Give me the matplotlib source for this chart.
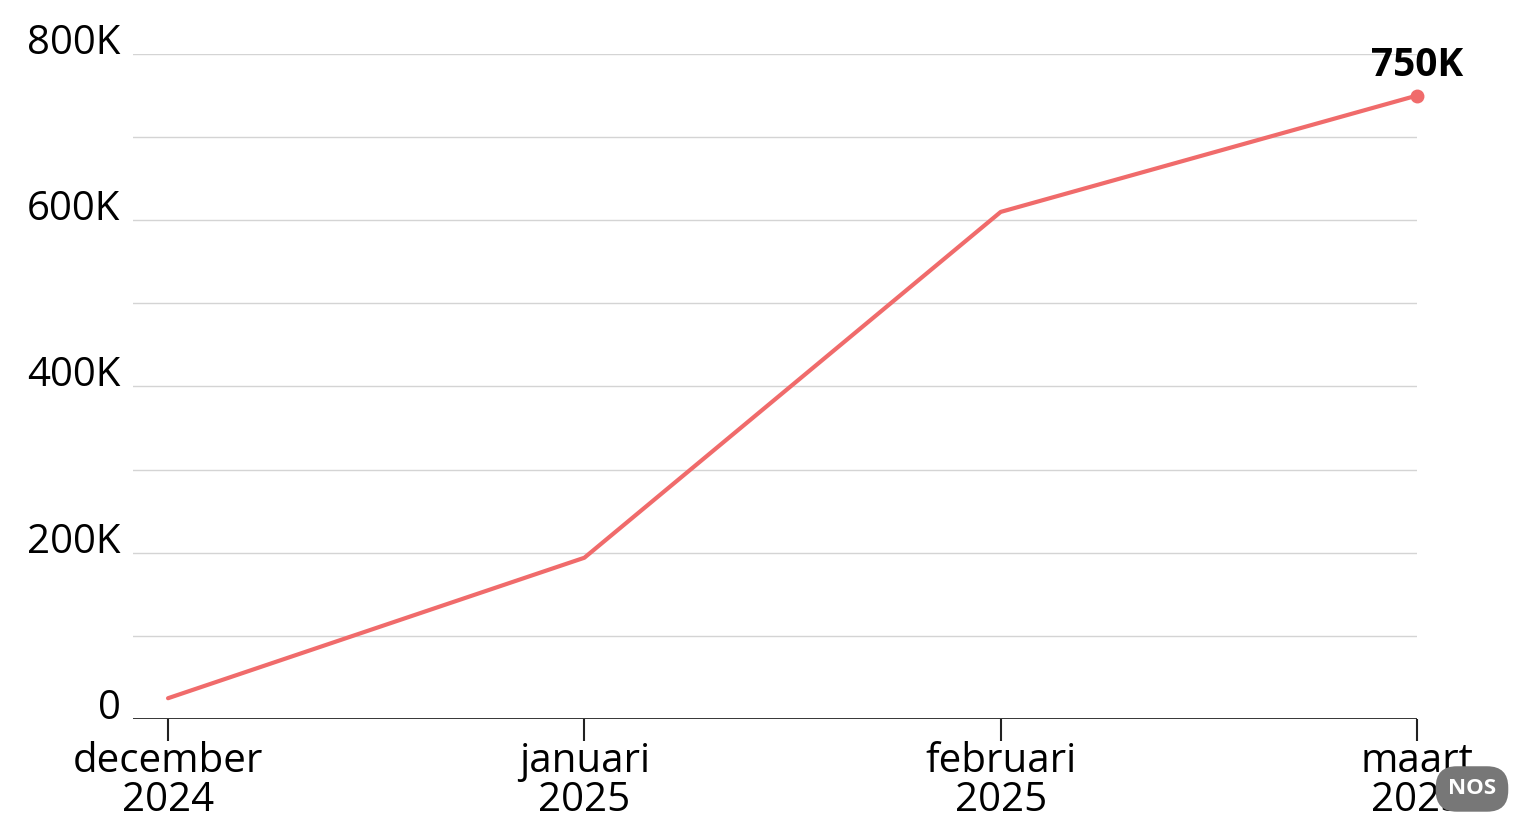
import matplotlib
matplotlib.use('Agg')
import matplotlib.pyplot as plt

months = ['december\n2024', 'januari\n2025', 'februari\n2025', 'maart\n2025']
values = [25000, 194000, 610000, 750000]
yticks = [0, 200000, 400000, 600000, 800000]
ylabels = ['0', '200K', '400K', '600K', '800K']
end_label = '750K'

plt.rcParams['font.family'] = ['Open Sans', 'DejaVu Sans']

fig = plt.figure(figsize=(15.26, 8.38), dpi=100)
ax = fig.add_axes([0.0872, 0.142, 0.8414, 0.7936])

x = list(range(len(months)))
line_col = '#f06b6b'
ax.plot(x, values, color=line_col, lw=3, solid_capstyle='round', zorder=3)
ax.plot(x[-1], values[-1], 'o', color=line_col, ms=9, zorder=4, clip_on=False)
ax.text(x[-1], values[-1] + 23000, end_label, ha='center', va='baseline',
	fontsize=28, fontweight='bold', color='black')

ax.set_xlim(-0.084, 3)
ax.set_ylim(0, 800000)

# grid every 100K
for g in range(100000, 800001, 100000):
	ax.axhline(g, color='#d4d4d4', lw=1, zorder=1)
ax.axhline(0, color='#222222', lw=2, zorder=2)

for s in ax.spines.values():
	s.set_visible(False)

ax.set_yticks(yticks)
ax.set_yticklabels(ylabels, fontsize=29)
ax.tick_params(axis='y', length=0, pad=9)
for lab in ax.get_yticklabels():
	lab.set_verticalalignment('baseline')

ax.set_xticks(x)
ax.set_xticklabels(months, fontsize=29, linespacing=0.97)
ax.tick_params(axis='x', length=16, width=1.5, color='#222222', pad=0)

# NOS badge
fig.text(0.9646, 0.0585, 'NOS', ha='center', va='center', color='white',
	fontsize=16, fontweight='bold', zorder=11,
	bbox=dict(boxstyle='round,pad=0.55,rounding_size=0.95', fc='#777777', ec='none'))

fig.savefig('out.png', dpi=100, facecolor='white')
